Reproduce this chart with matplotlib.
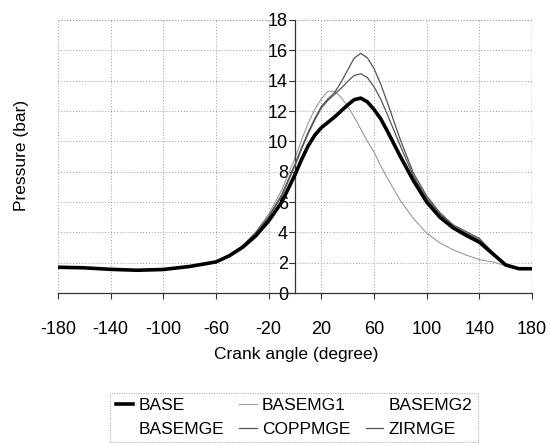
import matplotlib

matplotlib.use("Agg")

import matplotlib.pyplot as plt
from matplotlib.lines import Line2D

plt.rcParams["font.family"] = ["Liberation Sans", "DejaVu Sans"]
plt.rcParams["axes.unicode_minus"] = False

angle = [-180, -160, -140, -120, -100, -80, -60, -50, -40, -30, -20, -10, 0, 5, 10, 15,
         20, 25, 30, 35, 40, 45, 50, 55, 60, 65, 70, 80, 90, 100, 110, 120, 130, 140,
         150, 160, 170, 180]

base = [1.70, 1.66, 1.56, 1.50, 1.55, 1.75, 2.05, 2.45, 3.0, 3.75, 4.75, 6.0, 7.8, 8.8, 9.7, 10.4,
        10.9, 11.25, 11.6, 12.0, 12.4, 12.75, 12.85, 12.6, 12.1, 11.5, 10.7, 9.0, 7.4, 6.0, 5.0, 4.3, 3.8, 3.35,
        2.6, 1.85, 1.6, 1.6]

basemg1 = [1.70, 1.66, 1.56, 1.50, 1.55, 1.75, 2.05, 2.5, 3.1, 4.0, 5.2, 6.8, 8.9, 10.1, 11.2, 12.1,
           12.8, 13.3, 13.3, 12.9, 12.3, 11.6, 10.8, 10.0, 9.3, 8.4, 7.6, 6.1, 4.9, 3.95, 3.3, 2.85, 2.5, 2.2,
           2.05, 1.8, 1.6, 1.6]

coppmge = [1.70, 1.66, 1.56, 1.50, 1.55, 1.75, 2.05, 2.5, 3.1, 3.95, 5.05, 6.5, 8.5, 9.6, 10.6, 11.5,
           12.3, 12.8, 13.2, 13.9, 14.7, 15.5, 15.8, 15.5, 14.8, 13.8, 12.6, 10.1, 7.9, 6.4, 5.3, 4.5, 4.05, 3.6,
           2.7, 1.9, 1.6, 1.6]

zirmge = [1.70, 1.66, 1.56, 1.50, 1.55, 1.75, 2.05, 2.48, 3.05, 3.9, 5.0, 6.4, 8.4, 9.5, 10.5, 11.4,
          12.2, 12.7, 13.1, 13.5, 13.95, 14.35, 14.45, 14.2, 13.6, 12.8, 11.8, 9.7, 7.7, 6.25, 5.2, 4.4, 3.95, 3.5,
          2.65, 1.88, 1.6, 1.6]

x_ticks = [-180, -140, -100, -60, -20, 20, 60, 100, 140, 180]
y_ticks = [0, 2, 4, 6, 8, 10, 12, 14, 16, 18]

fig = plt.figure(figsize=(5.5, 4.43), dpi=100)
ax = fig.add_axes([58 / 550, 1 - 293 / 443, 474 / 550, 273 / 443])

grid_style = dict(color="#9a9a9a", lw=0.7, ls=(0, (1, 2)), zorder=0)
for xv in x_ticks[1:-1]:
    ax.axvline(xv, **grid_style)
for yv in y_ticks[1:]:
    ax.axhline(yv, **grid_style)
ax.axvline(-180, **grid_style)
ax.axvline(180, color="#666666", lw=0.9, ls=(0, (2, 1.5)), zorder=0)

line_kw = dict(solid_joinstyle="round", solid_capstyle="round")
ax.plot(angle, basemg1, color="#9a9a9a", lw=0.8, zorder=2, **line_kw)
ax.plot(angle, zirmge, color="#555555", lw=0.9, zorder=3, **line_kw)
ax.plot(angle, coppmge, color="#555555", lw=0.9, zorder=3, **line_kw)
ax.plot(angle, base, color="black", lw=2.6, zorder=4, **line_kw)

ax.set_xlim(-180, 180)
ax.set_ylim(0, 18)
ax.set_xticks(x_ticks)
ax.set_yticks(y_ticks)

for side in ["top", "right"]:
    ax.spines[side].set_visible(False)
ax.spines["left"].set_position(("data", 0))
ax.spines["left"].set_color("#333333")
ax.spines["bottom"].set_color("#333333")
ax.spines["left"].set_linewidth(0.9)
ax.spines["bottom"].set_linewidth(0.9)
ax.axhline(18, **grid_style)

ax.tick_params(axis="both", direction="out", length=4, width=0.8, colors="#333333",
               labelcolor="black", labelsize=13)
ax.tick_params(axis="x", pad=16)
ax.tick_params(axis="y", pad=1)

fig.text(22 / 550, 1 - 155 / 443, "Pressure (bar)", rotation=90, ha="center", va="center", fontsize=12.5)
fig.text(296 / 550, 1 - 354 / 443, "Crank angle (degree)", ha="center", va="center", fontsize=12.5)

handles = [
    Line2D([0], [0], color="black", lw=2.6),
    Line2D([0], [0], color="#9a9a9a", lw=0.8),
    Line2D([0], [0], color="none", lw=0.9),
    Line2D([0], [0], color="none", lw=0.9),
    Line2D([0], [0], color="#555555", lw=0.9),
    Line2D([0], [0], color="#555555", lw=0.9),
]
labels = ["BASE", "BASEMG1", "BASEMG2", "BASEMGE", "COPPMGE", "ZIRMGE"]
# matplotlib fills legend columns first, so reorder to read row-wise
order = [0, 3, 1, 4, 2, 5]
leg = fig.legend([handles[i] for i in order], [labels[i] for i in order],
                 loc="upper center", bbox_to_anchor=(294 / 550, 1 - 384 / 443),
                 ncol=3, fontsize=12.5, frameon=True, fancybox=False,
                 handlelength=1.0, handletextpad=0.3, columnspacing=0.9,
                 labelspacing=0.5, borderpad=0.3)
leg.get_frame().set_edgecolor("#888888")
leg.get_frame().set_linestyle((0, (1, 1.5)))
leg.get_frame().set_linewidth(0.7)

fig.savefig("out.png", dpi=100)
